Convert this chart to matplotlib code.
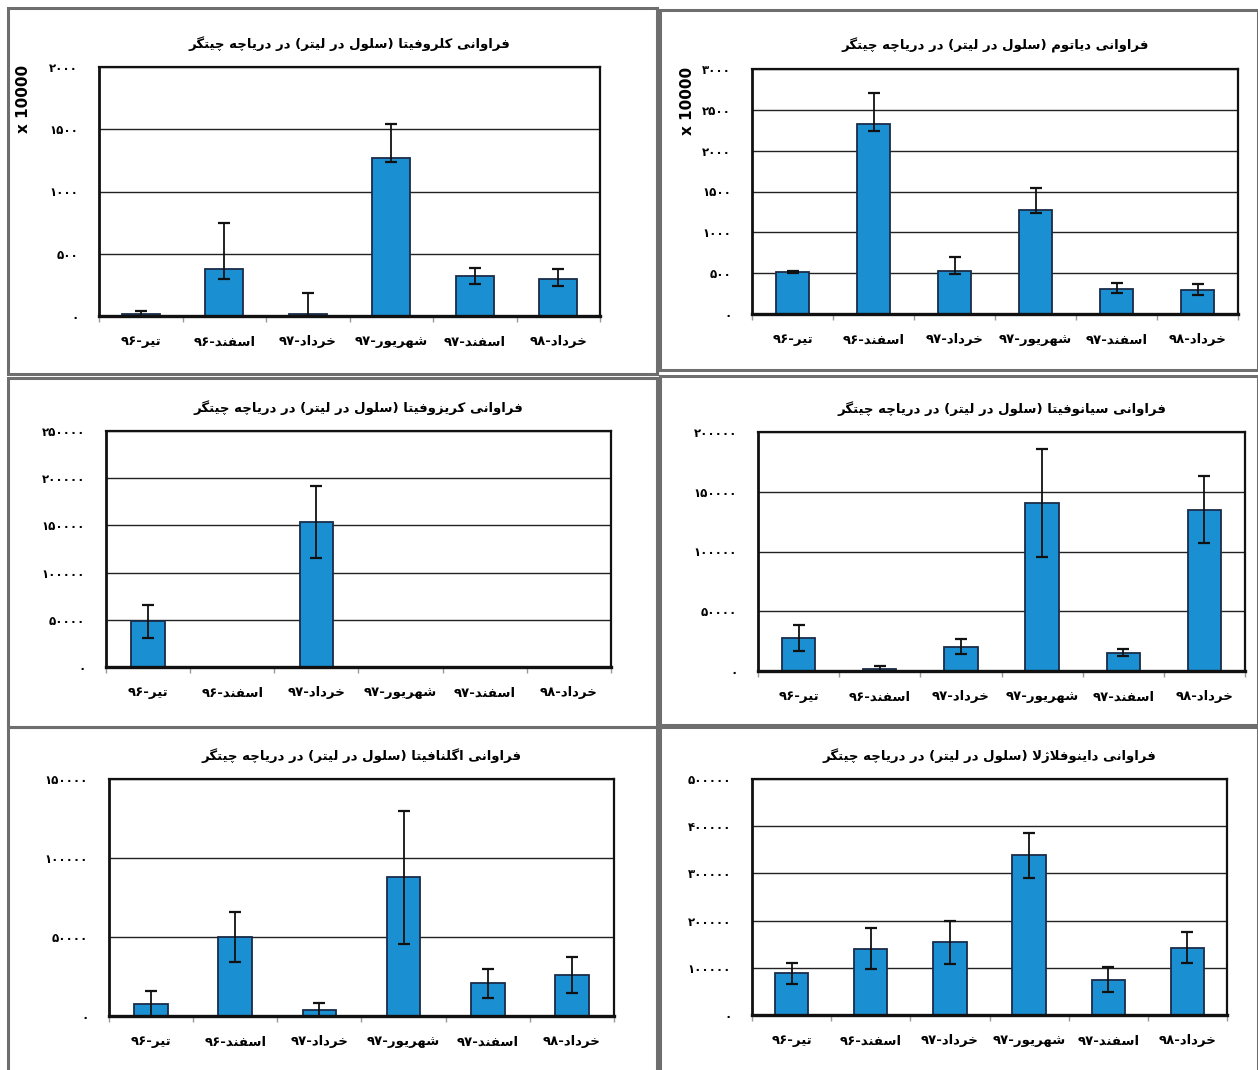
import matplotlib
matplotlib.use("Agg")
import matplotlib.pyplot as plt
from matplotlib.patches import Rectangle
from matplotlib.ticker import FuncFormatter, FixedLocator

# ---------------- data ----------------
categories = ["تیر-۹۶", "اسفند-۹۶", "خرداد-۹۷", "شهریور-۹۷", "اسفند-۹۷", "خرداد-۹۸"]

title_chloro = "فراوانی کلروفیتا (سلول در لیتر) در دریاچه چیتگر"
chloro_vals = [15, 375, 20, 1273, 320, 300]
chloro_err_lo = [15, 80, 20, 40, 62, 57]
chloro_err_hi = [25, 376, 167, 267, 62, 74]

title_diatom = "فراوانی دیاتوم (سلول در لیتر) در دریاچه چیتگر"
diatom_vals = [515, 2322, 531, 1278, 310, 294]
diatom_err_lo = [10, 81, 41, 45, 57, 61]
diatom_err_hi = [10, 388, 171, 269, 66, 73]

title_chryso = "فراوانی کریزوفیتا (سلول در لیتر) در دریاچه چیتگر"
chryso_vals = [48400, 0, 153800, 0, 0, 0]
chryso_err = [17500, 0, 38000, 0, 0, 0]

title_cyano = "فراوانی سیانوفیتا (سلول در لیتر) در دریاچه چیتگر"
cyano_vals = [27900, 2000, 20400, 140500, 15400, 134900]
cyano_err = [11000, 2500, 6500, 45000, 3000, 28000]

title_eugleno = "فراوانی اگلنافیتا (سلول در لیتر) در دریاچه چیتگر"
eugleno_vals = [7600, 49900, 3600, 87700, 20700, 26000]
eugleno_err = [8500, 15800, 4400, 42300, 9200, 11600]

title_dino = "فراوانی داینوفلاژلا (سلول در لیتر) در دریاچه چیتگر"
dino_vals = [88200, 140300, 153700, 338500, 74800, 142500]
dino_err = [21500, 43000, 44800, 48000, 27000, 33000]

scale_label = "x 10000"

# ------------- simple Persian shaping -------------
DUAL = {
    'ت': (0xFE95, 0xFE96, 0xFE97, 0xFE98), 'خ': (0xFEA5, 0xFEA6, 0xFEA7, 0xFEA8),
    'س': (0xFEB1, 0xFEB2, 0xFEB3, 0xFEB4), 'ش': (0xFEB5, 0xFEB6, 0xFEB7, 0xFEB8),
    'ف': (0xFED1, 0xFED2, 0xFED3, 0xFED4), 'ل': (0xFEDD, 0xFEDE, 0xFEDF, 0xFEE0),
    'م': (0xFEE1, 0xFEE2, 0xFEE3, 0xFEE4), 'ن': (0xFEE5, 0xFEE6, 0xFEE7, 0xFEE8),
    'ه': (0xFEE9, 0xFEEA, 0xFEEB, 0xFEEC), 'ی': (0xFBFC, 0xFBFD, 0xFBFE, 0xFBFF),
    'ک': (0xFB8E, 0xFB8F, 0xFB90, 0xFB91), 'گ': (0xFB92, 0xFB93, 0xFB94, 0xFB95),
    'چ': (0xFB7A, 0xFB7B, 0xFB7C, 0xFB7D), 'ب': (0xFE8F, 0xFE90, 0xFE91, 0xFE92),
}
RIGHT = {
    'ا': (0xFE8D, 0xFE8E), 'د': (0xFEA9, 0xFEAA), 'ر': (0xFEAD, 0xFEAE),
    'ز': (0xFEAF, 0xFEB0), 'ژ': (0xFB8A, 0xFB8B), 'و': (0xFEED, 0xFEEE),
}
DIGITS = set("0123456789۰۱۲۳۴۵۶۷۸۹")


def is_letter(c):
    return c in DUAL or c in RIGHT


def shape(text):
    out = []
    n = len(text)
    i = 0
    while i < n:
        c = text[i]
        prev = text[i - 1] if i > 0 else ''
        nxt = text[i + 1] if i + 1 < n else ''
        pj = prev in DUAL
        if c == 'ل' and nxt == 'ا':
            out.append(chr(0xFEFC if pj else 0xFEFB))
            i += 2
            continue
        if c in DUAL:
            nj = is_letter(nxt)
            f = DUAL[c]
            if pj and nj:
                out.append(chr(f[3]))
            elif pj:
                out.append(chr(f[1]))
            elif nj:
                out.append(chr(f[2]))
            else:
                out.append(chr(f[0]))
        elif c in RIGHT:
            f = RIGHT[c]
            out.append(chr(f[1] if pj else f[0]))
        else:
            out.append(c)
        i += 1
    return ''.join(out)


def rtl(text):
    s = shape(text)
    tokens = []
    buf = ''
    for c in s:
        if c in DIGITS:
            buf += c
        else:
            if buf:
                tokens.append(buf)
                buf = ''
            tokens.append(c)
    if buf:
        tokens.append(buf)
    mirror = {'(': ')', ')': '('}
    return ''.join(mirror.get(t, t) for t in reversed(tokens))


def fa_num(v, pos=None):
    s = str(int(round(v)))
    return s.translate(str.maketrans("0123456789", "۰۱۲۳۴۵۶۷۸۹"))


# ---------------- figure ----------------
W, H = 1258, 1070
fig = plt.figure(figsize=(W / 100, H / 100), dpi=100)
plt.rcParams['font.family'] = ['DejaVu Sans']


def fx(x):
    return x / W


def fy(y):
    return 1 - y / H


# panel frames
boxes = [(8, 8, 657, 374), (660, 10, 1258, 370), (8, 378, 657, 727),
         (660, 376, 1258, 725), (8, 727, 657, 1072), (660, 727, 1258, 1072)]
for (x0, y0, x1, y1) in boxes:
    fig.add_artist(Rectangle((fx(x0), fy(y1)), fx(x1) - fx(x0), fy(y0) - fy(y1),
                             transform=fig.transFigure, fill=False,
                             edgecolor='#6e6e6e', linewidth=2.2, zorder=0))

panels = [
    (title_chloro, chloro_vals, [chloro_err_lo, chloro_err_hi], 2000, 500, (99, 67, 600, 316), 76, 0.46),
    (title_diatom, diatom_vals, [diatom_err_lo, diatom_err_hi], 3000, 500, (752, 69, 1238, 314), 65, 0.40),
    (title_chryso, chryso_vals, chryso_err, 250000, 50000, (106, 431, 611, 667), None, 0.40),
    (title_cyano, cyano_vals, cyano_err, 200000, 50000, (758, 432, 1245, 671), None, 0.41),
    (title_eugleno, eugleno_vals, eugleno_err, 150000, 50000, (109, 779, 614, 1016), None, 0.40),
    (title_dino, dino_vals, dino_err, 500000, 100000, (752, 779, 1227, 1015), None, 0.42),
]

labels_vis = [rtl(c) for c in categories]
xs = list(range(len(categories)))

for title, vals, err, ymax, step, (L, T, R, B), scale_dx, bw in panels:
    ax = fig.add_axes([fx(L), fy(B), fx(R) - fx(L), fy(T) - fy(B)])
    ax.bar(xs, vals, width=bw, color='#1a8fd1', edgecolor='#1a2c48', linewidth=1.3, zorder=2)
    asym = isinstance(err[0], list)
    has_err = [i for i in xs if (err[1][i] if asym else err[i]) > 0]
    if asym:
        yerr = [[err[0][i] for i in has_err], [err[1][i] for i in has_err]]
    else:
        yerr = [err[i] for i in has_err]
    ax.errorbar(has_err, [vals[i] for i in has_err], yerr=yerr, fmt='none',
                ecolor='#111111', elinewidth=1.3, capsize=4.5, capthick=1.6, zorder=3)
    ax.set_xlim(-0.5, len(categories) - 0.5)
    ax.set_ylim(0, ymax)
    ticks = list(range(0, ymax + 1, step))
    ax.yaxis.set_major_locator(FixedLocator(ticks))
    ax.yaxis.set_major_formatter(FuncFormatter(fa_num))
    ax.grid(axis='y', color='#222222', linewidth=1.0, zorder=1)
    ax.set_axisbelow(True)
    ax.tick_params(axis='y', length=0, pad=15, labelsize=8.5)
    for lab in ax.get_yticklabels():
        lab.set_fontweight('bold')
    ax.set_xticks(xs)
    ax.set_xticklabels(labels_vis, fontsize=9.5, fontweight='bold')
    ax.tick_params(axis='x', which='major', length=0, pad=14)
    ax.set_xticks([x - 0.5 for x in range(len(categories) + 1)], minor=True)
    ax.tick_params(axis='x', which='minor', length=4, color='#999999', width=1)
    for sp in ax.spines.values():
        sp.set_color('#111111')
        sp.set_linewidth(1.6)
    ax.spines['bottom'].set_linewidth(2.4)
    ax.spines['left'].set_linewidth(2.0)
    ax.set_title(rtl(title), fontsize=9.5, fontweight='bold', pad=14)
    if scale_dx is not None:
        fig.text(fx(L - scale_dx), fy(T + 32), scale_label, rotation=90, ha='center', va='center',
                 fontsize=11, fontweight='bold')

fig.savefig("out.png", dpi=100)
